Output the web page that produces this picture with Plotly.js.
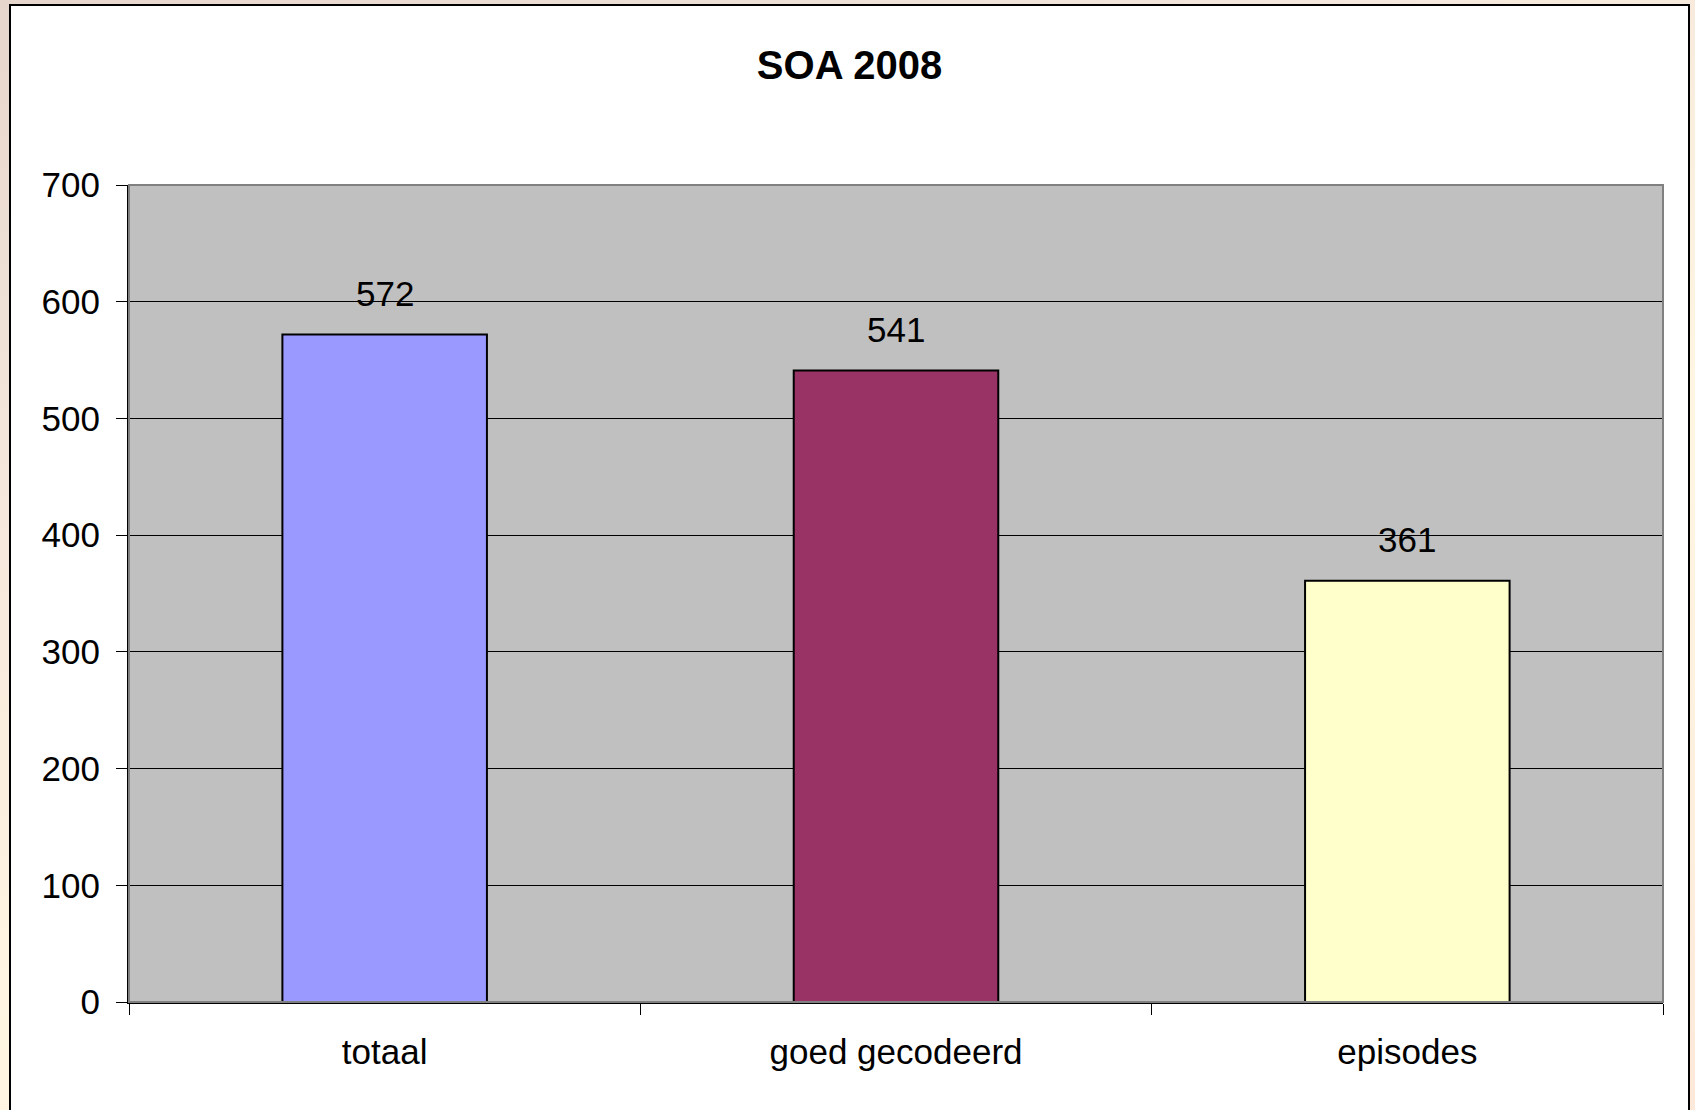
<!DOCTYPE html>
<html>
<head>
<meta charset="utf-8">
<script src="https://cdn.plot.ly/plotly-3.0.1.min.js"></script>
<style>
  html, body { margin: 0; padding: 0; width: 1695px; height: 1110px; overflow: hidden; }
  body { background: linear-gradient(160deg, #e6d6cc 0%, #f6e8dc 30%, #fff6e2 60%, #fde9d9 100%); position: relative; }
  #frame { position: absolute; left: 9px; top: 4px; width: 1677px; height: 1110px;
           border-left: 2px solid #000; border-top: 2px solid #000; border-right: 2px solid #000; background: #fff; }
  #chart { width: 1677px; height: 1104px; }
</style>
</head>
<body>
<div id="frame"><div id="chart"></div></div>
<script>
const categories = ["totaal", "goed gecodeerd", "episodes"];
const values = [572, 541, 361];
const barColors = ["#9999FF", "#993366", "#FFFFCC"];
const yTicks = [0, 100, 200, 300, 400, 500, 600, 700];
const chartTitle = "SOA 2008";

const font = "Liberation Sans, Arial, Helvetica, sans-serif";

const trace = {
  type: "bar",
  x: categories,
  y: values,
  marker: { color: barColors, line: { color: "#000", width: 2 } },
  hoverinfo: "skip"
};

const annotations = categories.map((c, i) => ({
  x: c, y: values[i], xref: "x", yref: "y",
  text: String(values[i]), showarrow: false,
  yanchor: "middle", yshift: 41,
  font: { family: font, size: 35, color: "#000" }
}));

const layout = {
  width: 1677, height: 1104,
  margin: { l: 118, r: 25, t: 179, b: 108 },
  paper_bgcolor: "#ffffff",
  plot_bgcolor: "#C0C0C0",
  showlegend: false,
  bargap: 0.6,
  title: {
    text: "<b>" + chartTitle + "</b>",
    xref: "container", x: 0.5, xanchor: "center",
    yref: "container", y: 1 - 59 / 1104, yanchor: "middle",
    font: { family: font, size: 40, color: "#000" }
  },
  xaxis: {
    type: "category",
    tickson: "boundaries",
    ticks: "outside", ticklen: 11, tickcolor: "#000", tickwidth: 1,
    showline: true, linecolor: "#000", linewidth: 2,
    showgrid: false,
    tickfont: { family: font, size: 35, color: "#000" },
    ticklabelstandoff: 18
  },
  yaxis: {
    range: [0, 700],
    tickvals: yTicks,
    ticktext: yTicks.map(String),
    ticks: "outside", ticklen: 11, tickcolor: "#000", tickwidth: 1,
    showline: true, linecolor: "#000", linewidth: 2,
    showgrid: true, gridcolor: "#000", gridwidth: 1,
    zeroline: false,
    tickfont: { family: font, size: 35, color: "#000" },
    ticklabelstandoff: 9
  },
  shapes: [{
    type: "rect", xref: "paper", yref: "paper", x0: 0, x1: 1, y0: 0, y1: 1,
    line: { color: "#808080", width: 2 }, layer: "above"
  }],
  annotations: annotations
};

Plotly.newPlot("chart", [trace], layout, { displayModeBar: false, staticPlot: true });
</script>
</body>
</html>
